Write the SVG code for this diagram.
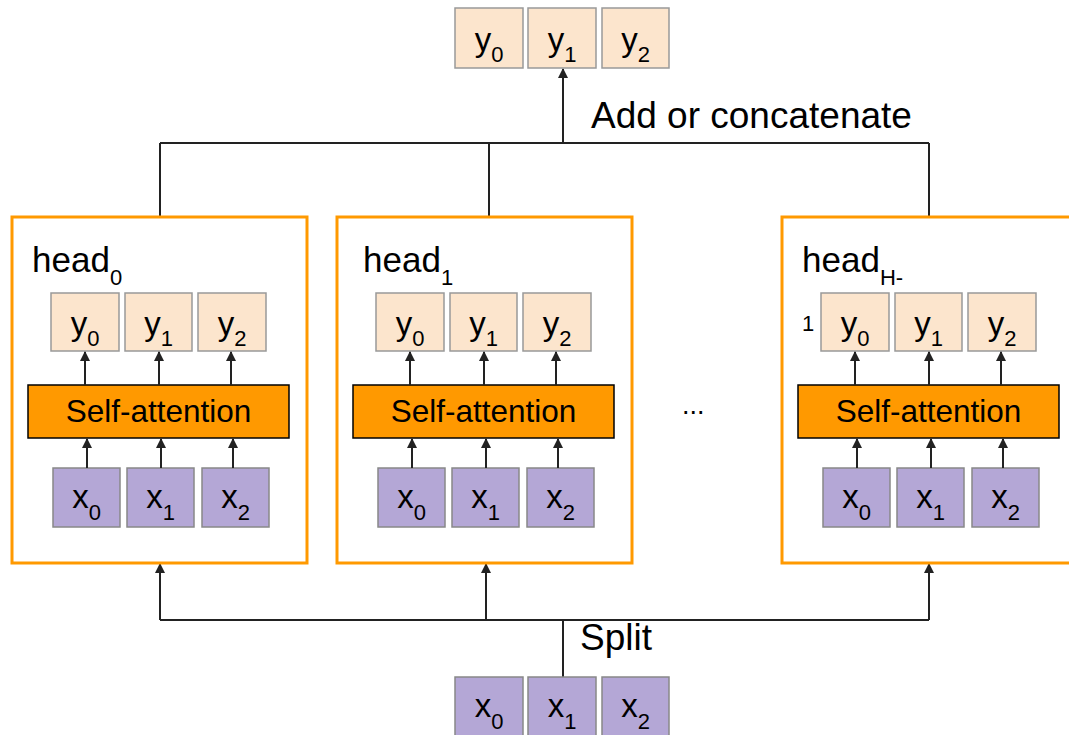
<svg xmlns="http://www.w3.org/2000/svg" width="1069" height="735" viewBox="0 0 1069 735">
<style>
text{font-family:"Liberation Sans",Arial,sans-serif;fill:#000}
.yb{fill:#fce5cd;stroke:#999;stroke-width:1.5}
.xb{fill:#b4a7d6;stroke:#888;stroke-width:1.5}
.hb{fill:#fff;stroke:#ff9900;stroke-width:3}
.sa{fill:#ff9900;stroke:#000;stroke-width:1.5}
.lbl{font-size:33px}
.sub{font-size:22px}
.big{font-size:37px}
.hd{font-size:35px}
.sat{font-size:31.5px}
.ln{stroke:#222;stroke-width:2;fill:none}
.ar{stroke:#222;stroke-width:2;fill:none;marker-end:url(#ah)}
</style>
<defs>
<marker id="ah" viewBox="0 0 10 10" refX="9" refY="5" markerWidth="5" markerHeight="5" orient="auto" markerUnits="strokeWidth">
<path d="M0 0 L10 5 L0 10 z" fill="#222"/>
</marker>
<g id="headContent">
<rect class="yb" x="51" y="293" width="68" height="58"/>
<rect class="yb" x="125" y="293" width="67" height="58"/>
<rect class="yb" x="198" y="293" width="68" height="58"/>
<text class="lbl" x="85" y="335" text-anchor="middle">y<tspan class="sub" dy="11">0</tspan></text>
<text class="lbl" x="158.5" y="335" text-anchor="middle">y<tspan class="sub" dy="11">1</tspan></text>
<text class="lbl" x="232" y="335" text-anchor="middle">y<tspan class="sub" dy="11">2</tspan></text>
<rect class="sa" x="28" y="385" width="261" height="53"/>
<text class="sat" x="158.5" y="422" text-anchor="middle">Self-attention</text>
<rect class="xb" x="53" y="468" width="67" height="59"/>
<rect class="xb" x="127" y="468" width="67" height="59"/>
<rect class="xb" x="202" y="468" width="67" height="59"/>
<text class="lbl" x="86.5" y="508" text-anchor="middle">x<tspan class="sub" dy="12">0</tspan></text>
<text class="lbl" x="160.5" y="508" text-anchor="middle">x<tspan class="sub" dy="12">1</tspan></text>
<text class="lbl" x="235.5" y="508" text-anchor="middle">x<tspan class="sub" dy="12">2</tspan></text>
<line class="ar" x1="85" y1="385" x2="85" y2="352"/>
<line class="ar" x1="159" y1="385" x2="159" y2="352"/>
<line class="ar" x1="231" y1="385" x2="231" y2="352"/>
<line class="ar" x1="87" y1="468" x2="87" y2="439"/>
<line class="ar" x1="161" y1="468" x2="161" y2="439"/>
<line class="ar" x1="233" y1="468" x2="233" y2="439"/>
</g>
</defs>
<rect width="1069" height="735" fill="#fff"/>

<g id="connectors">
<line class="ln" x1="160" y1="143" x2="929" y2="143"/>
<line class="ln" x1="160" y1="143" x2="160" y2="217"/>
<line class="ln" x1="489" y1="143" x2="489" y2="217"/>
<line class="ln" x1="929" y1="143" x2="929" y2="217"/>
<line class="ar" x1="563" y1="143" x2="563" y2="69"/>
<line class="ln" x1="160" y1="620" x2="929" y2="620"/>
<line class="ar" x1="160" y1="620" x2="160" y2="564"/>
<line class="ar" x1="486" y1="620" x2="486" y2="564"/>
<line class="ar" x1="929" y1="620" x2="929" y2="564"/>
<line class="ln" x1="563" y1="620" x2="563" y2="677"/>
</g>

<g id="output">
<rect class="yb" x="455" y="8" width="68" height="60"/>
<rect class="yb" x="528" y="8" width="68" height="60"/>
<rect class="yb" x="602" y="8" width="67" height="60"/>
<text class="lbl" x="489" y="51" text-anchor="middle">y<tspan class="sub" dy="11">0</tspan></text>
<text class="lbl" x="562" y="51" text-anchor="middle">y<tspan class="sub" dy="11">1</tspan></text>
<text class="lbl" x="635.5" y="51" text-anchor="middle">y<tspan class="sub" dy="11">2</tspan></text>
</g>
<text id="label-add" class="big" x="591" y="128">Add or concatenate</text>

<g id="head0">
<rect class="hb" x="12" y="217" width="295" height="346"/>
<text class="hd" x="32" y="272">head<tspan class="sub" dy="13">0</tspan></text>
<use href="#headContent"/>
</g>

<g id="head1">
<rect class="hb" x="337" y="217" width="295" height="346"/>
<text class="hd" x="363" y="272">head<tspan class="sub" dy="13">1</tspan></text>
<use href="#headContent" transform="translate(325 0)"/>
</g>

<text id="dots" x="682" y="414" style="font-size:27px">...</text>

<g id="headH">
<rect class="hb" x="782" y="217" width="295" height="346"/>
<text class="hd" x="802" y="272">head<tspan class="sub" dy="13">H-</tspan></text>
<text class="sub" x="802" y="331">1</text>
<use href="#headContent" transform="translate(770 0)"/>
</g>

<g id="input">
<rect class="xb" x="455" y="677" width="68" height="60"/>
<rect class="xb" x="528" y="677" width="68" height="60"/>
<rect class="xb" x="602" y="677" width="67" height="60"/>
<text class="lbl" x="489" y="717" text-anchor="middle">x<tspan class="sub" dy="12">0</tspan></text>
<text class="lbl" x="562" y="717" text-anchor="middle">x<tspan class="sub" dy="12">1</tspan></text>
<text class="lbl" x="635.5" y="717" text-anchor="middle">x<tspan class="sub" dy="12">2</tspan></text>
</g>
<text id="label-split" class="big" x="580" y="650">Split</text>
</svg>
